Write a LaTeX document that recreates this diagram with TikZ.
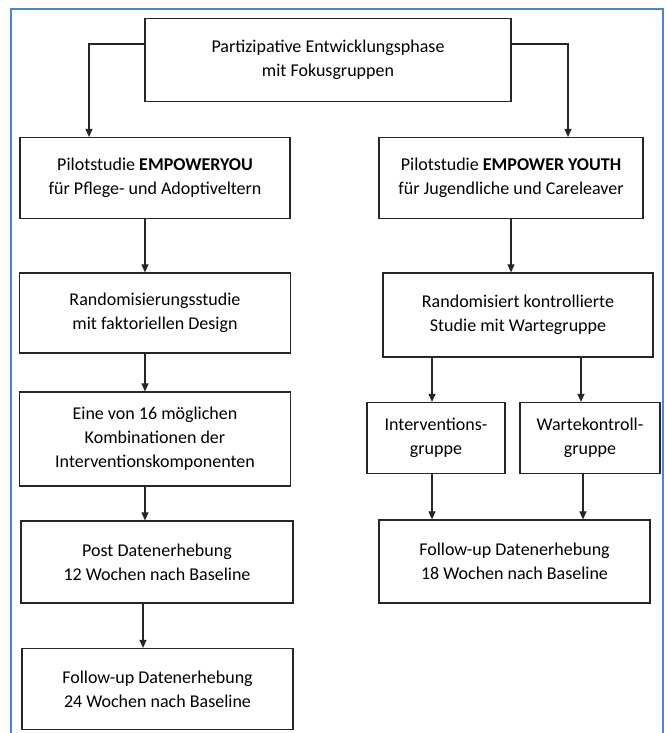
\documentclass[tikz,border=0pt]{standalone}
\usepackage{fontspec}
\setmainfont{Carlito}
\usetikzlibrary{arrows.meta}
\definecolor{rahmen}{RGB}{74,136,202}
\tikzset{
  box/.style={draw=black!85, line width=1.2pt, align=center, inner sep=0pt,
    font=\fontsize{18}{24}\selectfont},
  flow/.style={draw=black!85, line width=1.1pt, -{Triangle[length=8pt,width=7pt]}}
}
\begin{document}
\begin{tikzpicture}[x=1pt,y=-1pt]
\useasboundingbox (0,0) rectangle (665,733);
% \draw[help lines, gray] (0,0) grid[step=50] (665,733);
\draw[rahmen, line width=2pt] (11,745) -- (11,9) -- (663,9) -- (663,745);
\coordinate (achse) at (145,0);

\node[box, minimum width=366pt, minimum height=83pt] (partiz) at (328,60) {Partizipative Entwicklungsphase\\mit Fokusgruppen};

\node[box, minimum width=270pt, minimum height=81pt] (pilotA) at (155,178) {Pilotstudie \textbf{EMPOWERYOU}\\für Pflege- und Adoptiveltern};
\node[box, minimum width=264pt, minimum height=81pt] (pilotB) at (511,178) {Pilotstudie \textbf{EMPOWER YOUTH}\\für Jugendliche und Careleaver};

\node[box, minimum width=271pt, minimum height=80pt] (random) at (155,313) {Randomisierungsstudie\\mit faktoriellen Design};
\node[box, minimum width=270pt, minimum height=84pt] (rct) at (518,315) {Randomisiert kontrollierte\\Studie mit Wartegruppe};

\node[box, minimum width=271pt, minimum height=94pt] (kombi) at (155,439) {Eine von 16 möglichen\\Kombinationen der\\Interventionskomponenten};
\node[box, minimum width=138pt, minimum height=71pt] (interv) at (436,438) {Interventions-\\gruppe};
\node[box, minimum width=140pt, minimum height=71pt] (warte) at (590,438) {Wartekontroll-\\gruppe};

\node[box, minimum width=272pt, minimum height=82pt] (post) at (157,562) {Post Datenerhebung\\12 Wochen nach Baseline};
\node[box, minimum width=271pt, minimum height=83pt] (followB) at (514.5,561.5) {Follow-up Datenerhebung\\18 Wochen nach Baseline};

\node[box, minimum width=271pt, minimum height=81pt] (followA) at (157.5,689) {Follow-up Datenerhebung\\24 Wochen nach Baseline};

\draw[flow] ([yshift=16pt]partiz.west) -| ([xshift=-66pt]pilotA.north);
\draw[flow] ([yshift=16pt]partiz.east) -| ([xshift=57pt]pilotB.north);

\draw[flow] (pilotA.south -| achse) -- (random.north -| achse);
\draw[flow] (random.south -| achse) -- (kombi.north -| achse);
\draw[flow] (kombi.south -| achse) -- (post.north -| achse);
\draw[flow] ([xshift=-2pt]post.south -| achse) -- ([xshift=-2pt]followA.north -| achse);

\draw[flow] (pilotB.south) -- (rct.north -| pilotB.south);
\draw[flow] ([xshift=-4pt]interv.north |- rct.south) -- ([xshift=-4pt]interv.north);
\draw[flow] ([xshift=-9pt]warte.north |- rct.south) -- ([xshift=-9pt]warte.north);
\draw[flow] ([xshift=-4pt]interv.south) -- ([xshift=-4pt]interv.south |- followB.north);
\draw[flow] ([xshift=-7pt]warte.south) -- ([xshift=-7pt]warte.south |- followB.north);
\end{tikzpicture}
\end{document}
